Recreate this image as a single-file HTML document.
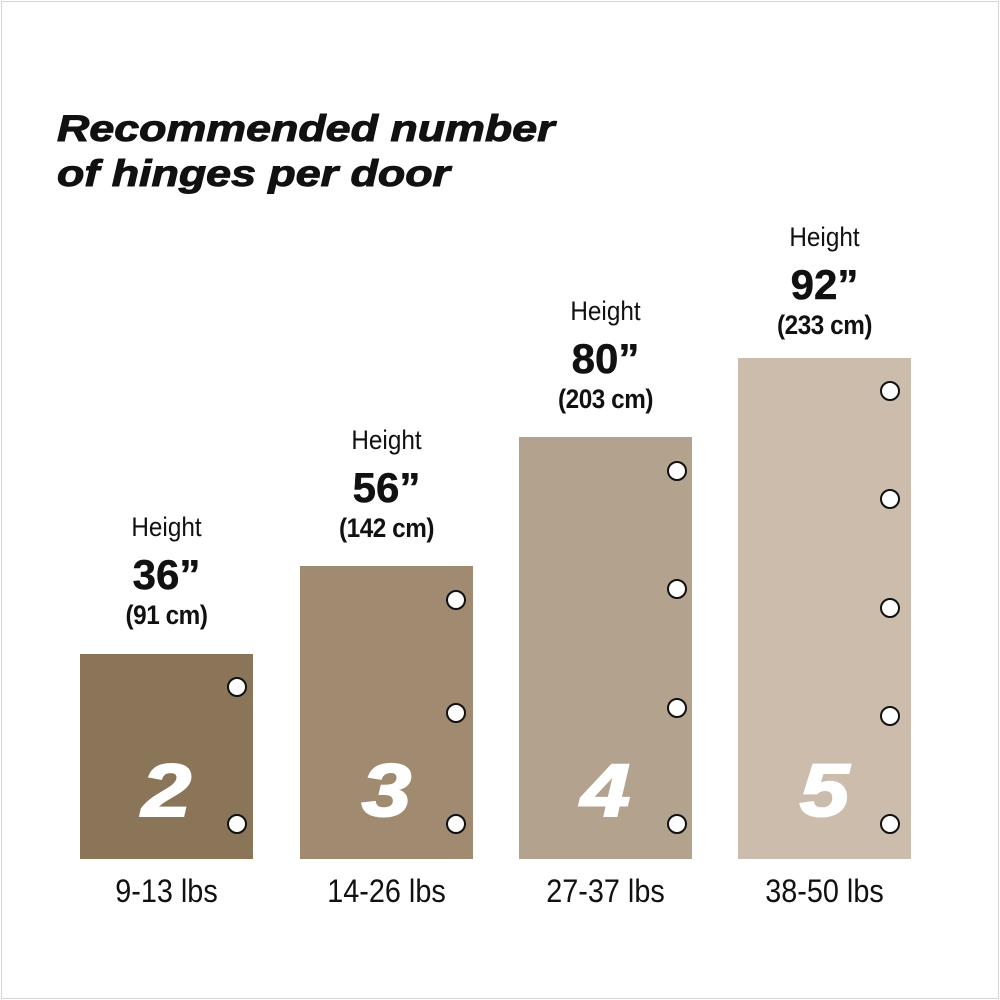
<!DOCTYPE html>
<html><head><style>
body{margin:0;width:1000px;height:1000px;position:relative;background:#fff;font-family:"Liberation Sans",sans-serif;overflow:hidden}
.frame{position:absolute;left:1px;top:1px;width:996px;height:996px;border:1px solid #d4d4d4}
.t{position:absolute;left:57px;top:106px;font-weight:bold;font-style:italic;font-size:37px;line-height:45px;color:#111;transform:scaleX(1.21);transform-origin:left top;-webkit-text-stroke:1px #111}
.bar{position:absolute;top:0}
.c{position:absolute;width:16px;height:16px;border:2px solid #111;border-radius:50%;background:#fff}
.n{position:absolute;color:#fff;font-weight:bold;font-style:italic;font-size:74px;width:173px;text-align:center;transform:scaleX(1.2);-webkit-text-stroke:2px #fff}
.h{position:absolute;width:173px;text-align:center;color:#111}
.h .a{font-size:27px;line-height:34px;transform:scaleX(.9)}
.h .b{font-weight:bold;font-size:42px;line-height:46px;margin-top:8px;-webkit-text-stroke:.5px #111}
.h .cm{font-weight:bold;font-size:27px;line-height:30px;margin-top:2px;transform:scaleX(.9);letter-spacing:-0.5px}
.l{position:absolute;top:873px;width:173px;text-align:center;font-size:32px;color:#111;transform:scaleX(.9)}
</style></head><body>
<div class="frame"></div>
<div class="t">Recommended number<br>of hinges per door</div>

<div class="bar" style="left:80px;top:654px;width:173px;height:205px;background:#8a7559"></div>
<div class="c" style="left:227px;top:677px"></div>
<div class="c" style="left:227px;top:814px"></div>
<div class="n" style="left:80px;top:748px">2</div>
<div class="h" style="left:80px;top:510px"><div class="a">Height</div><div class="b">36”</div><div class="cm">(91 cm)</div></div>
<div class="l" style="left:80px">9-13 lbs</div>

<div class="bar" style="left:300px;top:566px;width:173px;height:293px;background:#a08b71"></div>
<div class="c" style="left:446px;top:590px"></div>
<div class="c" style="left:446px;top:703px"></div>
<div class="c" style="left:446px;top:814px"></div>
<div class="n" style="left:300px;top:748px">3</div>
<div class="h" style="left:300px;top:423px"><div class="a">Height</div><div class="b">56”</div><div class="cm">(142 cm)</div></div>
<div class="l" style="left:300px">14-26 lbs</div>

<div class="bar" style="left:519px;top:437px;width:173px;height:422px;background:#b3a28d"></div>
<div class="c" style="left:667px;top:461px"></div>
<div class="c" style="left:667px;top:579px"></div>
<div class="c" style="left:667px;top:698px"></div>
<div class="c" style="left:667px;top:814px"></div>
<div class="n" style="left:519px;top:748px">4</div>
<div class="h" style="left:519px;top:294px"><div class="a">Height</div><div class="b">80”</div><div class="cm">(203 cm)</div></div>
<div class="l" style="left:519px">27-37 lbs</div>

<div class="bar" style="left:738px;top:358px;width:173px;height:501px;background:#cbbcab"></div>
<div class="c" style="left:880px;top:381px"></div>
<div class="c" style="left:880px;top:489px"></div>
<div class="c" style="left:880px;top:598px"></div>
<div class="c" style="left:880px;top:706px"></div>
<div class="c" style="left:880px;top:814px"></div>
<div class="n" style="left:738px;top:748px">5</div>
<div class="h" style="left:738px;top:220px"><div class="a">Height</div><div class="b">92”</div><div class="cm">(233 cm)</div></div>
<div class="l" style="left:738px">38-50 lbs</div>
</body></html>
